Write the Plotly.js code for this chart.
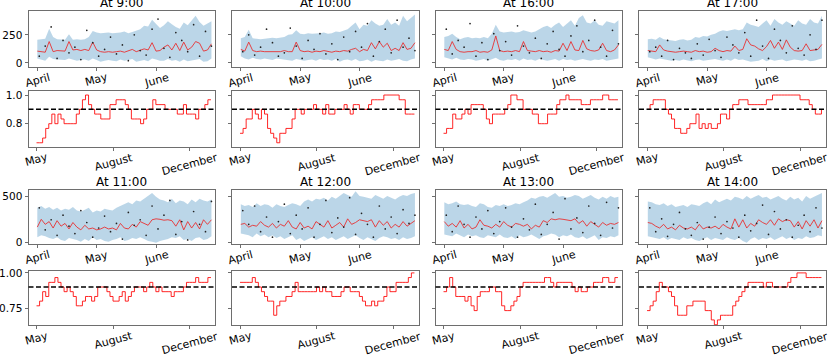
<!DOCTYPE html>
<html>
<head>
<meta charset="utf-8">
<script src="https://cdn.plot.ly/plotly-3.0.1.min.js"></script>
<style>
  body { margin: 0; background: #fff; }
  #chart { width: 830px; height: 355px; }
</style>
</head>
<body>
<div id="chart"></div>
<script>
// ---- data ----
const forecastTitles = ['At 9:00', 'At 10:00', 'At 16:00', 'At 17:00', 'At 11:00', 'At 12:00', 'At 13:00', 'At 14:00'];
const forecastDays = [0,2,4,6,8,10,12,14,16,18,20,22,24,26,28,30,32,34,36,38,40,42,44,46,48,50,52,54,56,58,60,62,64,66,68,70,72,74,76,78,80,82,84,86,88];
const dotDays = [1,4,7,10,13,16,19,22,25,28,31,34,37,40,43,46,49,52,55,58,61,64,67,70,73,76,79,82,85,88];
const monthTicks = [0, 30, 60];
const monthLabels = ['April', 'May', 'June'];
const coverageX = [0,4,8,12,16,20,24,28,32,36,40,44,48,52,56,60,64,68,72,76,80,84,88,92,96,100,104,108,112,116,120,124,128,132,136,140,144,148,152,156,160,164,168,172,176,180,184,188,192,196,200,204,208,212,216,220,224,228];
const coverageTicks = [0, 100, 200];
const coverageLabels = ['May', 'August', 'December'];
const target = 0.9;

// forecast: mean, upper, lower, actuals
const mean9 = [105,100,95,190,100,110,105,105,190,115,120,110,120,110,185,115,100,95,100,95,100,105,95,105,120,100,110,125,115,180,105,110,140,160,115,175,110,185,115,140,190,175,105,115,170];
const upper9 = [205,210,215,305,230,210,205,205,255,205,210,205,210,230,285,270,265,270,270,265,265,270,280,265,275,290,300,330,325,385,345,310,335,370,345,320,305,360,335,380,420,365,330,350,370];
const lower9 = [40,30,20,55,35,30,25,25,40,30,20,25,30,20,40,25,10,20,25,20,15,30,20,25,35,10,20,25,15,40,30,20,20,35,20,25,10,30,15,20,30,35,10,15,40];
const dots9 = [60,150,320,40,200,90,140,30,290,180,60,120,230,80,160,20,250,110,70,300,390,130,50,270,200,100,340,60,280,150];

const mean10 = [120,105,185,110,100,105,100,100,105,100,100,110,100,100,185,110,100,105,95,105,100,110,100,95,105,100,110,105,120,130,100,120,110,180,125,190,140,175,110,130,110,180,120,130,180];
const upper10 = [220,230,295,220,215,210,215,220,225,220,225,230,250,255,290,260,255,265,260,260,265,270,260,265,280,275,290,300,330,360,300,340,330,380,350,330,340,390,340,360,330,420,370,400,430];
const lower10 = [60,40,30,45,35,30,40,30,25,40,35,30,25,20,35,30,20,25,30,20,35,25,30,20,35,10,25,30,20,35,15,20,30,10,25,20,15,30,20,25,35,20,15,30,40];
const dots10 = [100,250,70,140,300,180,60,90,310,150,40,200,120,260,80,170,30,230,100,280,140,350,60,190,300,90,380,140,220,110];

const mean16 = [120,110,190,120,100,95,100,100,110,95,100,95,115,240,110,100,105,100,110,100,190,110,105,100,110,100,105,95,110,105,175,110,190,115,110,200,125,110,105,115,175,110,100,115,160];
const upper16 = [230,240,260,230,210,225,230,220,225,220,230,220,260,340,280,270,275,280,270,275,290,280,270,280,300,320,330,310,340,360,320,350,380,330,400,425,360,350,380,340,330,370,360,350,380];
const lower16 = [50,40,30,45,30,25,35,30,20,25,35,20,30,45,25,20,30,25,35,20,40,25,30,20,35,30,20,25,35,20,35,25,30,20,30,35,25,20,30,25,35,20,25,30,40];
const dots16 = [300,80,200,140,350,60,180,30,260,110,190,70,330,150,90,220,40,170,280,120,60,240,330,100,200,380,140,60,290,170];

const mean17 = [110,105,100,160,115,105,100,95,100,105,100,95,110,100,105,95,100,130,110,100,110,105,150,110,120,215,160,150,125,110,145,200,130,185,120,205,140,110,105,110,170,110,115,120,165];
const upper17 = [210,215,205,230,210,205,200,195,205,210,200,205,230,225,240,235,250,260,280,290,285,295,300,290,300,360,340,330,320,350,380,330,390,360,340,370,350,330,380,350,340,390,360,350,420];
const lower17 = [50,40,30,40,35,30,20,25,20,30,20,15,25,30,20,25,30,35,25,20,30,20,40,25,30,20,10,15,20,35,15,30,20,25,30,15,20,30,25,20,30,15,20,30,40];
const dots17 = [100,140,60,200,30,130,90,40,170,70,210,110,50,230,160,90,270,60,380,150,40,300,200,90,330,130,70,250,120,380];

const mean11 = [170,255,200,230,160,240,180,210,150,220,170,140,190,150,160,140,150,170,150,160,140,210,160,150,200,170,230,210,190,250,260,255,245,250,240,180,250,140,230,160,220,150,250,200,250];
const upper11 = [380,400,370,390,360,380,350,370,360,390,350,340,360,380,330,350,340,370,360,350,380,400,420,440,420,460,450,480,520,540,500,470,460,440,480,430,460,450,420,470,440,480,460,450,470];
const lower11 = [60,80,70,50,40,60,30,20,50,40,30,10,40,20,60,30,40,20,10,30,40,60,20,30,50,40,60,40,20,10,0,20,30,40,60,50,70,30,40,20,50,60,30,40,70];
const dots11 = [380,140,250,80,300,180,100,350,220,60,160,290,120,210,40,330,190,250,80,400,150,300,460,90,230,30,340,200,120,450];

const mean12 = [200,210,170,190,180,230,190,170,210,160,200,180,240,170,150,220,160,180,150,230,200,170,240,160,190,220,170,260,200,220,250,240,230,250,170,240,190,230,160,200,170,230,180,210,240];
const upper12 = [420,400,410,390,430,400,420,410,380,420,400,390,410,430,420,400,450,470,450,480,470,490,460,500,480,510,540,520,500,560,510,500,490,480,520,500,480,510,490,470,500,520,510,530,540];
const lower12 = [100,90,80,60,100,70,90,60,80,50,70,40,60,80,30,50,20,40,60,30,50,70,40,60,30,50,70,40,60,80,50,30,60,40,20,50,70,60,40,50,30,60,40,50,70];
const dots12 = [350,200,400,120,280,60,230,420,100,300,150,380,60,200,460,110,270,170,490,90,320,200,60,400,150,280,100,360,210,300];

const mean13 = [230,180,210,170,240,160,200,150,170,250,190,180,160,200,170,230,190,170,210,200,180,200,150,190,170,240,220,260,250,260,255,250,240,260,210,240,180,230,200,170,220,190,210,200,220];
const upper13 = [440,420,430,450,420,410,420,400,390,430,420,390,380,410,400,420,400,410,430,420,440,460,490,480,500,510,490,520,540,500,510,490,500,520,510,480,500,520,490,470,500,480,510,490,500];
const lower13 = [90,80,70,100,80,60,90,70,80,60,50,80,70,60,90,60,50,70,40,80,60,70,90,60,40,70,80,100,90,60,80,70,90,60,50,70,40,60,80,30,60,50,70,60,80];
const dots13 = [300,120,400,200,60,280,150,350,100,230,380,170,60,260,140,420,90,200,330,40,480,150,270,110,400,210,80,440,160,380];

const mean14 = [220,210,180,160,200,150,170,140,190,160,150,170,140,200,150,170,160,180,150,200,170,150,260,170,250,160,210,180,250,220,200,250,190,260,230,250,240,170,230,150,240,180,250,160,240];
const upper14 = [450,440,420,410,430,400,420,390,400,410,390,420,410,400,430,450,420,470,440,460,480,460,500,490,470,510,480,500,520,490,500,470,490,510,480,460,500,470,490,450,510,480,500,520,540];
const lower14 = [70,60,50,40,60,30,50,40,30,60,40,50,30,20,40,60,30,50,40,30,60,40,30,50,20,0,40,60,30,50,40,60,30,50,70,40,60,30,50,40,70,50,60,80,70];
const dots14 = [380,120,260,70,200,330,150,80,220,40,170,280,100,230,160,60,300,130,210,410,90,340,150,250,60,190,300,120,380,160];

// rolling coverage
const cov9 = [0.667,0.667,0.7,0.767,0.8,0.867,0.8,0.867,0.833,0.8,0.8,0.8,0.8,0.867,0.9,0.967,1.0,0.933,0.9,0.867,0.867,0.833,0.833,0.833,0.933,0.933,0.967,0.967,0.967,0.933,0.9,0.833,0.833,0.833,0.8,0.833,0.9,0.9,0.967,0.933,0.933,0.933,0.9,0.9,0.9,0.9,0.867,0.867,0.933,0.867,0.867,0.867,0.833,0.9,0.9,0.933,0.967,0.967];
const cov10 = [0.733,0.767,0.833,0.833,0.9,0.867,0.833,0.9,0.867,0.767,0.733,0.7,0.667,0.733,0.733,0.767,0.767,0.833,0.9,0.9,0.867,0.9,0.9,0.9,0.933,0.9,0.9,0.867,0.933,0.867,0.867,0.9,0.9,0.9,0.933,0.9,0.867,0.933,0.933,0.9,0.9,0.9,0.933,0.967,0.967,0.967,0.967,1.0,1.0,1.0,1.0,1.0,0.967,0.967,0.867,0.867,0.867,0.867];
const cov16 = [0.733,0.767,0.767,0.867,0.833,0.833,0.867,0.9,0.867,0.933,0.933,0.933,0.933,0.9,0.833,0.8,0.867,0.867,0.867,0.867,0.9,0.933,1.0,1.0,0.967,0.967,0.9,0.9,0.9,0.867,0.867,0.8,0.8,0.8,0.867,0.867,0.867,0.933,0.967,0.967,1.0,0.967,0.967,0.967,0.967,0.933,0.933,0.933,0.967,0.967,0.967,0.967,1.0,1.0,0.967,0.967,0.967,0.967];
const cov17 = [0.9,0.933,0.967,0.967,0.967,0.967,0.9,0.867,0.833,0.767,0.767,0.733,0.733,0.767,0.8,0.8,0.867,0.767,0.8,0.767,0.8,0.767,0.767,0.8,0.867,0.867,0.833,0.9,0.933,0.933,0.967,0.967,0.967,0.933,0.933,0.933,0.933,0.933,0.933,0.967,0.967,1.0,1.0,1.0,1.0,1.0,1.0,1.0,1.0,1.0,0.967,0.967,0.967,0.933,0.9,0.867,0.867,0.9];
const cov11 = [0.767,0.8,0.867,0.833,0.933,0.933,0.967,0.933,0.9,0.867,0.9,0.867,0.833,0.767,0.767,0.8,0.833,0.833,0.8,0.833,0.9,0.9,0.9,0.867,0.833,0.8,0.8,0.833,0.867,0.8,0.833,0.867,0.9,0.9,0.9,0.867,0.9,0.933,0.9,0.867,0.9,0.867,0.867,0.867,0.833,0.867,0.867,0.867,0.9,0.933,0.933,0.933,0.967,0.933,0.933,0.933,0.967,0.967];
const cov12 = [0.933,0.933,0.933,0.933,0.967,0.933,0.9,0.867,0.833,0.8,0.8,0.7,0.767,0.8,0.8,0.833,0.833,0.867,0.933,0.867,0.867,0.867,0.867,0.867,0.867,0.9,0.867,0.9,0.867,0.867,0.833,0.833,0.833,0.867,0.9,0.9,0.867,0.867,0.867,0.833,0.8,0.767,0.767,0.8,0.767,0.8,0.8,0.833,0.9,0.867,0.867,0.933,0.933,0.933,0.933,0.967,1.0,1.0];
const cov13 = [0.867,0.9,0.967,0.9,0.833,0.833,0.833,0.8,0.833,0.767,0.733,0.833,0.867,0.867,0.867,0.9,0.9,0.867,0.867,0.767,0.733,0.733,0.767,0.8,0.833,0.9,0.933,0.933,0.933,0.933,0.933,0.933,0.933,0.967,0.967,0.933,0.9,0.933,0.933,0.933,0.933,0.933,0.9,0.867,0.9,0.867,0.867,0.9,0.9,0.933,0.933,0.933,0.967,0.967,0.933,0.933,0.967,0.967];
const cov14 = [0.733,0.767,0.8,0.867,0.933,0.9,0.9,0.867,0.833,0.767,0.7,0.7,0.7,0.767,0.767,0.8,0.8,0.8,0.8,0.733,0.733,0.667,0.633,0.667,0.7,0.7,0.7,0.7,0.767,0.8,0.833,0.867,0.9,0.933,0.933,0.933,0.933,0.933,0.9,0.933,0.933,0.9,0.9,0.9,0.9,0.9,0.933,0.967,0.967,1.0,1.0,1.0,0.967,0.967,0.967,0.967,0.967,0.967];

const forecasts = [
  [mean9, upper9, lower9, dots9], [mean10, upper10, lower10, dots10],
  [mean16, upper16, lower16, dots16], [mean17, upper17, lower17, dots17],
  [mean11, upper11, lower11, dots11], [mean12, upper12, lower12, dots12],
  [mean13, upper13, lower13, dots13], [mean14, upper14, lower14, dots14]
];
const coverages = [cov9, cov10, cov16, cov17, cov11, cov12, cov13, cov14];

// ---- layout helpers ----
const W = 830, H = 355;
const colLeft = [28.5, 232, 435.5, 639];
const colWidth = 186.5;
const rowPx = [[11, 66.5], [91, 146.5], [190, 244], [270.5, 325]];
const font = 'DejaVu Sans';
const frame = '#6e6e6e';

const yRanges = [[-32, 462], [0.641, 1.028], [-14, 574], [0.631, 1.017]];
const yTicks = [[0, 250], [0.8, 1.0], [0, 500], [0.75, 1.0]];
const yTickText = [['0', '250'], ['0.8', '1.0'], ['0', '500'], ['0.75', '1.00']];

const data = [];
const layout = {
  width: W, height: H,
  margin: {l: 0, r: 0, t: 0, b: 0},
  paper_bgcolor: 'white', plot_bgcolor: 'white',
  showlegend: false,
  font: {family: font, size: 11, color: 'black'},
  annotations: [], shapes: []
};

function axisId(row, col) { return row * 4 + col + 1; }

for (let row = 0; row < 4; row++) {
  for (let col = 0; col < 4; col++) {
    const n = axisId(row, col);
    const sfx = n === 1 ? '' : n;
    const isForecast = row % 2 === 0;
    const xr = isForecast ? [-4.45, 89.8] : [-10.5, 233.3];
    layout['xaxis' + sfx] = {
      domain: [colLeft[col] / W, (colLeft[col] + colWidth) / W],
      anchor: 'y' + sfx, range: xr,
      tickvals: isForecast ? monthTicks : coverageTicks,
      showticklabels: false, ticks: 'outside', ticklen: 3, tickcolor: frame,
      showline: true, mirror: true, linecolor: frame, linewidth: 1,
      showgrid: false, zeroline: false, fixedrange: true
    };
    layout['yaxis' + sfx] = {
      domain: [1 - rowPx[row][1] / H, 1 - rowPx[row][0] / H],
      anchor: 'x' + sfx, range: yRanges[row],
      tickvals: yTicks[row], ticktext: yTickText[row],
      showticklabels: col === 0, ticks: 'outside', ticklen: 3, tickcolor: frame,
      tickfont: {size: 10.5},
      showline: true, mirror: true, linecolor: frame, linewidth: 1,
      showgrid: false, zeroline: false, fixedrange: true
    };
    // rotated x tick labels
    const tv = isForecast ? monthTicks : coverageTicks;
    const tt = isForecast ? monthLabels : coverageLabels;
    tv.forEach((v, i) => {
      layout.annotations.push({
        xref: 'x' + sfx, yref: 'y' + sfx + ' domain', x: v, y: 0,
        text: tt[i], textangle: -15, showarrow: false,
        xanchor: 'center', yanchor: 'top', yshift: -3, borderpad: 0,
        font: {size: 11}
      });
    });
  }
}

// forecast panels (rows 1 and 3)
forecasts.forEach((f, p) => {
  const row = p < 4 ? 0 : 2, col = p % 4;
  const n = axisId(row, col);
  const sfx = n === 1 ? '' : n;
  const [m, up, lo, dots] = f;
  data.push({x: forecastDays, y: lo, xaxis: 'x' + sfx, yaxis: 'y' + sfx,
    mode: 'lines', line: {width: 0, color: 'rgba(0,0,0,0)'}, hoverinfo: 'skip'});
  data.push({x: forecastDays, y: up, xaxis: 'x' + sfx, yaxis: 'y' + sfx,
    mode: 'lines', line: {width: 0, color: 'rgba(0,0,0,0)'}, fill: 'tonexty',
    fillcolor: 'rgba(31,119,180,0.3)', hoverinfo: 'skip'});
  data.push({x: forecastDays, y: m, xaxis: 'x' + sfx, yaxis: 'y' + sfx,
    mode: 'lines', line: {width: 1, color: 'rgba(235,40,40,0.85)'}});
  data.push({x: dotDays, y: dots, xaxis: 'x' + sfx, yaxis: 'y' + sfx,
    mode: 'markers', marker: {size: 1.7, color: '#222'}});
  layout.annotations.push({
    xref: 'x' + sfx + ' domain', yref: 'y' + sfx + ' domain', x: 0.5, y: 1,
    text: forecastTitles[p], showarrow: false, xanchor: 'center', yanchor: 'bottom',
    yshift: 0, borderpad: 0, font: {size: 12}
  });
});

// coverage panels (rows 2 and 4)
coverages.forEach((c, p) => {
  const row = p < 4 ? 1 : 3, col = p % 4;
  const n = axisId(row, col);
  const sfx = n === 1 ? '' : n;
  data.push({x: coverageX, y: c, xaxis: 'x' + sfx, yaxis: 'y' + sfx,
    mode: 'lines', line: {width: 1, color: 'rgba(255,0,0,0.85)', shape: 'hv'}});
  layout.shapes.push({
    type: 'line', xref: 'x' + sfx + ' domain', yref: 'y' + sfx,
    x0: 0, x1: 1, y0: target, y1: target,
    line: {color: 'black', width: 1.5, dash: '5px,2.5px'}
  });
});

Plotly.newPlot('chart', data, layout, {staticPlot: true, displayModeBar: false});
</script>
</body>
</html>
